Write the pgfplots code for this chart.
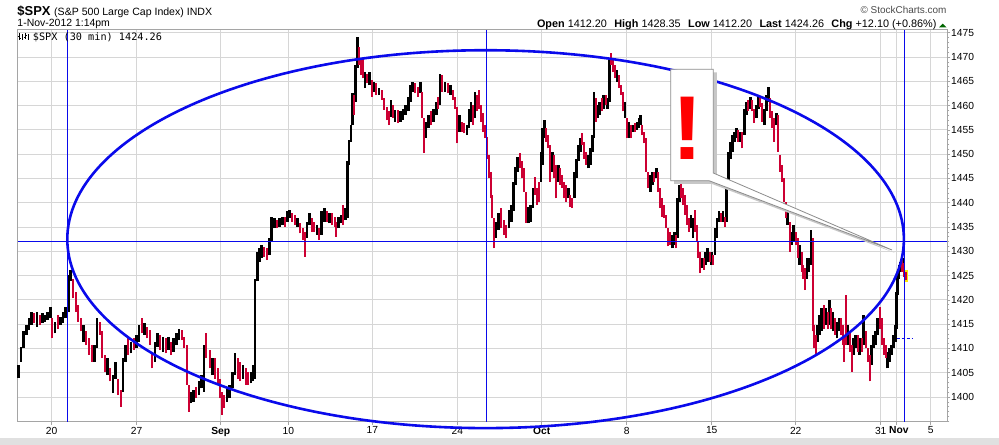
\documentclass[border=0pt]{standalone}
\usepackage{fontspec}
\setmainfont{Liberation Sans}
\newfontfamily\monofont{DejaVu Sans Mono}
\usepackage{pgfplots}
\usepackage{pgfplotstable}
\pgfplotsset{compat=1.18}
\definecolor{lblue}{RGB}{10,10,235}
\definecolor{barred}{RGB}{204,0,51}
\definecolor{gridgray}{RGB}{214,214,214}
\definecolor{framegray}{RGB}{165,165,165}

% x = bar position (3 units per pixel column), y = index value
\pgfplotstableread{
p lo hi
55 1404.0 1406.6
63 1407.3 1410.4
71 1410.0 1413.5
79 1412.8 1414.8
87 1413.8 1416.2
95 1414.8 1417.6
111 1414.5 1417.6
127 1415.2 1417.2
135 1415.5 1416.9
143 1415.9 1417.6
151 1416.2 1418.6
165 1413.1 1415.5
181 1414.8 1416.5
189 1415.2 1417.6
197 1416.2 1418.6
205 1417.6 1425.1
212 1423.8 1426.2
251 1411.4 1414.8
283 1407.3 1410.7
291 1410.0 1416.2
323 1404.5 1408.0
339 1400.8 1404.5
347 1403.8 1407.3
369 1401.1 1408.0
377 1407.3 1410.7
393 1409.0 1411.4
409 1410.0 1412.8
417 1411.4 1414.8
433 1412.8 1415.2
465 1407.3 1411.4
473 1410.4 1413.1
489 1409.3 1412.4
505 1409.7 1412.4
521 1409.3 1412.1
529 1410.7 1413.1
537 1411.7 1414.1
573 1398.7 1401.1
581 1399.0 1401.4
597 1400.4 1403.2
605 1401.8 1404.5
612 1401.1 1410.7
637 1404.5 1408.0
681 1399.0 1401.8
689 1399.7 1402.5
697 1401.8 1405.2
705 1404.5 1409.0
729 1403.8 1406.6
753 1402.8 1405.2
759 1403.2 1406.6
765 1403.8 1424.4
772 1423.8 1429.9
779 1427.9 1430.6
785 1428.6 1431.3
809 1429.2 1432.7
815 1432.0 1437.1
823 1434.7 1436.8
839 1435.1 1436.8
847 1435.4 1437.1
863 1436.1 1438.2
869 1436.8 1438.5
893 1435.1 1436.8
921 1432.7 1436.1
928 1435.4 1437.8
951 1433.4 1435.4
965 1433.4 1438.2
973 1436.1 1438.9
989 1435.8 1437.8
1015 1434.7 1437.1
1023 1435.8 1437.5
1037 1436.4 1438.9
1042 1436.8 1448.5
1047 1447.8 1452.9
1053 1452.6 1456.0
1057 1456.0 1462.5
1067 1460.8 1468.4
1072 1467.7 1474.2
1095 1463.6 1467.0
1108 1464.2 1467.0
1122 1462.9 1464.9
1137 1462.2 1463.6
1173 1457.7 1461.2
1185 1456.7 1459.1
1201 1456.7 1458.8
1209 1457.0 1459.4
1217 1458.1 1460.1
1225 1458.8 1461.8
1231 1460.8 1464.2
1237 1462.9 1464.9
1261 1462.5 1464.9
1277 1453.3 1456.7
1285 1455.3 1458.1
1301 1456.7 1459.4
1309 1458.1 1460.8
1320 1460.1 1466.6
1335 1462.9 1464.9
1351 1462.2 1464.2
1378 1454.6 1458.1
1401 1453.9 1456.0
1407 1455.3 1459.4
1413 1456.7 1460.8
1425 1457.4 1462.9
1487 1432.7 1436.1
1495 1434.4 1437.8
1527 1434.7 1438.5
1535 1436.1 1439.5
1541 1438.2 1444.3
1547 1443.7 1447.4
1553 1446.4 1449.5
1585 1435.8 1439.2
1592 1436.1 1439.5
1599 1438.9 1443.0
1623 1444.3 1450.5
1628 1447.8 1455.3
1633 1453.3 1457.0
1657 1446.4 1450.5
1675 1444.3 1447.8
1705 1440.9 1443.0
1723 1440.9 1446.4
1729 1445.0 1449.1
1735 1448.5 1451.9
1741 1450.5 1453.3
1765 1447.1 1449.8
1771 1447.8 1451.2
1777 1450.5 1453.9
1782 1453.3 1462.9
1793 1457.4 1460.1
1799 1458.1 1460.8
1811 1459.4 1462.2
1823 1459.4 1461.5
1828 1460.8 1469.7
1851 1464.9 1467.3
1875 1457.4 1460.8
1887 1453.3 1456.7
1899 1454.6 1456.0
1911 1455.0 1456.7
1917 1455.3 1457.4
1922 1456.0 1458.1
1951 1442.3 1445.7
1957 1443.7 1446.4
1969 1445.0 1447.1
2017 1430.6 1433.4
2023 1431.3 1434.0
2033 1432.7 1440.9
2038 1440.2 1443.7
2073 1434.7 1437.5
2079 1432.7 1436.8
2105 1426.5 1428.6
2117 1427.2 1429.9
2123 1427.9 1430.6
2135 1427.2 1429.9
2145 1429.2 1434.7
2151 1432.7 1436.8
2157 1436.1 1438.2
2169 1436.1 1438.2
2180 1436.1 1445.0
2185 1443.7 1450.5
2191 1449.1 1452.6
2197 1450.5 1453.9
2203 1452.6 1454.6
2209 1453.3 1455.3
2221 1452.6 1454.6
2233 1453.9 1459.4
2239 1458.1 1460.8
2251 1459.4 1461.8
2269 1457.4 1460.1
2275 1459.4 1462.2
2293 1456.0 1459.4
2299 1458.8 1462.2
2305 1460.8 1463.9
2329 1456.0 1458.4
2363 1435.4 1438.9
2375 1431.3 1434.0
2381 1432.0 1435.4
2399 1427.2 1431.3
2421 1424.4 1428.6
2427 1425.8 1428.6
2433 1427.2 1434.4
2453 1411.4 1414.8
2459 1412.8 1416.9
2465 1413.5 1418.3
2477 1414.8 1418.3
2488 1414.8 1420.0
2499 1413.5 1417.6
2511 1412.1 1415.5
2517 1413.5 1416.2
2543 1410.7 1414.8
2561 1408.7 1412.1
2567 1410.0 1412.8
2579 1408.7 1412.1
2591 1410.7 1416.9
2615 1406.6 1410.7
2621 1410.0 1412.8
2627 1410.7 1413.5
2633 1412.8 1416.2
2663 1405.9 1409.3
2669 1407.3 1410.0
2675 1408.7 1410.7
2681 1410.0 1412.8
2686 1411.4 1414.8
2689 1414.1 1421.7
2693 1421.0 1425.1
2697 1424.4 1427.2
2701 1425.8 1427.9
2709 1426.5 1428.6
}\blackbars

\pgfplotstableread{
p lo hi
103 1415.2 1417.2
119 1414.8 1416.9
157 1412.1 1416.2
173 1414.1 1416.9
219 1420.3 1424.4
227 1417.6 1421.7
235 1415.5 1418.9
243 1413.5 1416.2
259 1410.7 1413.5
267 1408.7 1412.1
275 1407.3 1410.7
299 1412.8 1415.5
307 1408.0 1413.5
315 1405.2 1408.7
331 1403.2 1405.9
355 1400.4 1403.8
362 1398.0 1401.4
385 1408.7 1412.1
401 1409.7 1412.1
425 1413.1 1416.2
441 1412.1 1414.5
449 1410.7 1413.8
457 1405.9 1409.3
481 1409.7 1412.8
497 1409.0 1412.1
513 1408.7 1411.4
545 1411.7 1413.8
553 1410.0 1412.4
560 1402.5 1410.7
566 1397.0 1402.5
589 1399.7 1402.1
619 1408.0 1413.1
629 1405.9 1409.7
645 1403.8 1408.0
653 1402.5 1405.9
660 1399.7 1403.8
666 1396.3 1401.1
673 1397.7 1400.4
713 1403.8 1408.0
721 1403.2 1407.3
737 1402.5 1405.9
745 1402.5 1405.2
793 1428.9 1430.9
801 1428.2 1430.6
831 1434.7 1436.4
855 1435.1 1437.1
877 1436.1 1437.8
885 1435.4 1437.5
901 1433.7 1435.8
909 1432.3 1434.7
914 1428.9 1434.0
935 1434.0 1436.8
943 1434.0 1436.1
958 1432.3 1434.7
981 1436.1 1438.2
997 1435.4 1437.8
1005 1435.1 1437.1
1009 1433.0 1436.1
1030 1435.4 1439.5
1062 1458.1 1462.2
1077 1468.4 1472.1
1083 1466.3 1469.7
1089 1465.6 1469.7
1102 1464.6 1466.6
1115 1461.8 1465.3
1129 1462.2 1464.6
1145 1461.2 1463.2
1153 1459.1 1461.5
1160 1457.0 1459.8
1166 1456.0 1458.8
1179 1457.4 1460.1
1193 1456.4 1459.1
1245 1462.5 1464.6
1253 1461.8 1463.9
1267 1457.4 1462.9
1271 1450.2 1457.4
1293 1456.0 1458.8
1315 1459.4 1461.8
1327 1462.9 1466.3
1343 1462.5 1464.6
1359 1461.2 1463.2
1366 1459.4 1461.8
1372 1452.2 1459.8
1385 1454.6 1456.7
1393 1454.3 1456.4
1419 1456.0 1460.1
1431 1458.8 1462.2
1437 1459.4 1463.2
1443 1456.7 1460.1
1449 1454.6 1458.4
1455 1453.3 1456.0
1461 1449.1 1453.6
1467 1445.0 1449.8
1472 1440.9 1446.4
1477 1436.8 1441.6
1481 1430.6 1436.8
1503 1434.7 1438.9
1511 1433.4 1436.4
1519 1432.7 1435.4
1560 1447.1 1450.2
1567 1445.0 1448.5
1573 1442.3 1447.1
1578 1435.8 1442.3
1605 1441.6 1445.4
1612 1439.5 1443.0
1618 1440.2 1444.3
1639 1452.6 1455.3
1645 1451.2 1453.9
1651 1444.3 1451.9
1663 1445.0 1449.8
1669 1440.9 1447.8
1681 1443.7 1447.1
1687 1443.0 1445.7
1693 1440.9 1444.3
1699 1440.2 1443.7
1711 1439.2 1441.6
1717 1438.9 1440.9
1747 1451.9 1454.3
1753 1449.1 1452.6
1759 1447.8 1450.5
1787 1456.7 1461.5
1805 1458.8 1461.5
1817 1460.1 1462.2
1833 1468.4 1470.8
1839 1467.0 1469.7
1845 1465.6 1468.4
1857 1463.6 1466.3
1863 1462.2 1464.2
1869 1458.8 1462.9
1881 1453.3 1457.4
1893 1453.3 1456.0
1905 1454.6 1456.4
1927 1453.9 1456.0
1933 1452.2 1454.6
1939 1446.4 1453.3
1945 1443.0 1446.4
1963 1444.3 1446.4
1975 1442.3 1446.4
1981 1438.9 1443.0
1987 1437.1 1440.9
1993 1436.8 1439.5
1999 1434.7 1437.5
2005 1431.0 1434.7
2011 1431.3 1434.0
2028 1430.6 1433.4
2043 1440.9 1444.3
2049 1439.5 1443.0
2055 1437.5 1441.6
2061 1435.4 1439.5
2067 1434.0 1436.8
2085 1434.0 1438.5
2090 1432.0 1435.4
2095 1428.6 1432.0
2099 1425.5 1429.9
2111 1426.2 1428.6
2129 1427.9 1429.9
2140 1427.2 1429.2
2163 1436.1 1437.8
2175 1435.1 1437.1
2215 1452.6 1455.0
2227 1451.2 1454.6
2245 1458.8 1461.2
2257 1458.8 1461.2
2263 1456.4 1459.4
2281 1459.8 1461.8
2287 1456.7 1460.5
2311 1457.4 1461.5
2317 1455.3 1458.8
2323 1452.6 1457.4
2335 1450.5 1458.1
2341 1446.4 1449.8
2347 1444.3 1447.8
2352 1440.2 1445.0
2357 1436.8 1440.2
2369 1429.9 1436.1
2387 1431.3 1434.0
2393 1428.6 1432.7
2405 1425.8 1429.9
2410 1424.4 1427.2
2415 1422.0 1426.5
2438 1413.5 1432.7
2443 1410.0 1414.8
2448 1408.7 1412.8
2471 1414.1 1418.9
2483 1414.1 1417.6
2493 1414.1 1418.3
2505 1412.8 1416.2
2523 1412.8 1416.2
2529 1410.7 1414.8
2533 1407.3 1412.8
2538 1410.7 1421.0
2549 1409.3 1413.5
2555 1405.2 1410.7
2573 1409.3 1412.8
2585 1409.3 1412.1
2597 1410.0 1413.5
2603 1407.3 1410.0
2609 1403.2 1408.7
2639 1414.1 1418.6
2645 1410.7 1416.2
2651 1408.7 1412.1
2657 1408.0 1410.7
2705 1425.8 1428.2
2713 1424.8 1427.5
2718 1424.1 1425.8
}\redbars

\pgfplotstableread{
p lo hi
2718 1423.6 1426.1
}\lastbar

\begin{document}
\begin{tikzpicture}
\useasboundingbox (0,0) rectangle (999bp,445bp);
\fill[white] (0,0) rectangle (999bp,445bp);
\begin{axis}[
  at={(17.7bp,23.3bp)}, anchor=south west,
  scale only axis, width=929.6bp, height=392bp,
  xmin=53.1, xmax=2841.9, ymin=1394.92, ymax=1475.63,
  clip=false,
  axis line style={draw=framegray, line width=0.8bp},
  grid=major, major grid style={draw=gridgray, line width=0.8bp},
  xtick={155.1,410.1,662.1,864.9,1116.9,1371.9,1625.1,1880.1,2135.1,2387.1,2642.1,2688.9,2792.1},
  xticklabels={20,27,\textbf{Sep},10,17,24,\textbf{Oct},8,15,22,31\hspace{6bp},\hspace{5bp}\textbf{Nov},5},
  ytick={1400,1405,...,1475},
  minor ytick={1395,1396,...,1475},
  xtick pos=bottom, ytick pos=right, yticklabel pos=right,
  tick align=outside, major tick length=3bp, minor tick length=2bp,
  tick style={draw=framegray, line width=0.6bp},
  tick label style={font=\fontsize{10.3}{12}\selectfont},
  /pgf/number format/assume math mode=true,
  /pgf/number format/1000 sep={},
  yticklabel style={anchor=west, inner sep=0pt, xshift=0.7bp},
  xticklabel style={anchor=north, inner sep=0pt, yshift=-2bp},
]
\addplot[draw=none, mark=none, forget plot,
  error bars/.cd, y dir=plus, y explicit, error mark=none,
  error bar style={draw=yellow!90!orange, line width=3.6bp}]
  table[x=p, y=lo, y error expr=\thisrow{hi}-\thisrow{lo}] {\lastbar};
\addplot[draw=none, mark=none, forget plot,
  error bars/.cd, y dir=plus, y explicit, error mark=none,
  error bar style={draw=black, line width=2.6bp}]
  table[x=p, y=lo, y error expr=\thisrow{hi}-\thisrow{lo}] {\blackbars};
\addplot[draw=none, mark=none, forget plot,
  error bars/.cd, y dir=plus, y explicit, error mark=none,
  error bar style={draw=barred, line width=2.1bp}]
  table[x=p, y=lo, y error expr=\thisrow{hi}-\thisrow{lo}] {\redbars};
% trend annotations
\draw[lblue, line width=1bp] (axis cs:53.1,1432.05) -- (axis cs:2841.9,1432.05);
\draw[lblue, line width=1bp] (axis cs:201.9,1394.92) -- (axis cs:201.9,1475.63);
\draw[lblue, line width=1bp] (axis cs:1458,1394.92) -- (axis cs:1458,1475.63);
\draw[lblue, line width=1bp] (axis cs:2712.9,1394.92) -- (axis cs:2712.9,1475.63);
\draw[lblue, line width=1bp, dash pattern=on 3bp off 2bp] (axis cs:2690,1412.1) -- (axis cs:2739,1412.1);
\draw[lblue, line width=2.6bp] (axis cs:1456.8,1432.5) ellipse [x radius=1254.9, y radius=38.9];
\end{axis}
\begin{scope}[x=1bp, y=-1bp, yshift=445bp]
  % header texts
  \node[anchor=base west, inner sep=0] at (17.3,15.3) {\fontsize{13}{13}\selectfont\bfseries \$SPX};
  \node[anchor=base west, inner sep=0] at (54,15.3) {\fontsize{10.6}{12}\selectfont (S\&P 500 Large Cap Index) INDX};
  \node[anchor=base west, inner sep=0] at (17.3,26.7) {\fontsize{10.5}{12}\selectfont 1-Nov-2012 1:14pm};
  \node[anchor=base east, inner sep=0, text=black!70] at (946.7,13.3) {\fontsize{10}{12}\selectfont © StockCharts.com};
  \node[anchor=base east, inner sep=0] at (936.7,27.3) {\fontsize{10.9}{12}\selectfont \textbf{Open} 1412.20\hspace{0.4em} \textbf{High} 1428.35\hspace{0.4em} \textbf{Low} 1412.20\hspace{0.4em} \textbf{Last} 1424.26\hspace{0.4em} \textbf{Chg} +12.10 (+0.86\%)};
  \fill[green!40!black] (939,27.3) -- (946.5,27.3) -- (942.75,23.6) -- cycle;
  % legend line inside the plot
  \draw[black, line width=1bp] (19.5,33) -- (19.5,40) (22.5,34) -- (22.5,40.5) (25.5,33.5) -- (25.5,39.5) (28.5,34) -- (28.5,40);
  \draw[black, line width=0.8bp] (18,36) -- (19.5,36) (19.5,38) -- (21,38) (24,37) -- (25.5,37) (25.5,35) -- (27,35);
  \node[anchor=base west, inner sep=0] at (32.7,40.5) {\monofont\fontsize{10.25}{12}\selectfont \$SPX (30 min) 1424.26};
  % callout
  \fill[black!22] (674,72.5) -- (716.8,72.5) -- (716.8,176) -- (895,253) -- (712,184) -- (674,184) -- cycle;
  \filldraw[fill=white, draw=black!45, line width=0.8bp] (670.7,69.3) -- (713.3,69.3) -- (713.3,173) -- (892,250) -- (709,180.7) -- (670.7,180.7) -- cycle;
  \node[anchor=base, inner sep=0, text=red] at (687.5,160) {\fontsize{91}{91}\selectfont\bfseries !};
  % bottom band
  \fill[black!12] (0,438.5) rectangle (999,445);
\end{scope}
\end{tikzpicture}
\end{document}
